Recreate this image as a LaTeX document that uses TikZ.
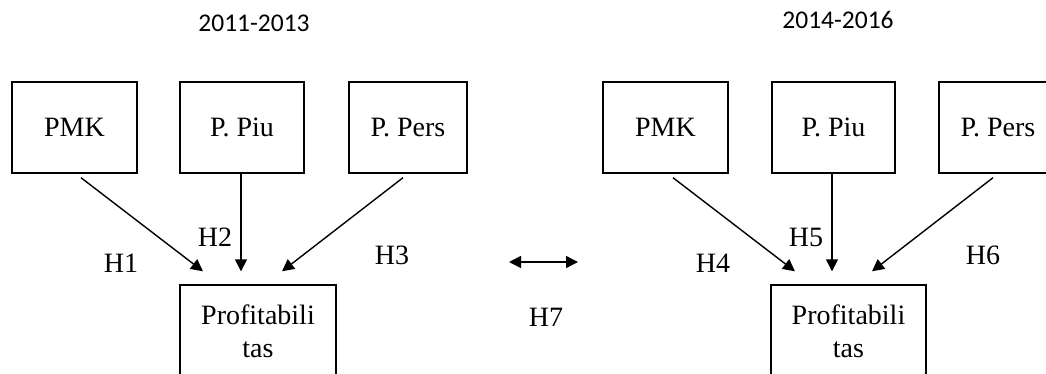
\documentclass[tikz,border=0pt]{standalone}
\usepackage{fontspec}
\setmainfont{Liberation Serif}
\newfontfamily\yearfont{Carlito}
\usetikzlibrary{arrows.meta}
\begin{document}
\begin{tikzpicture}[x=1pt,y=-1pt,
  box/.style={draw,line width=1.4pt,inner sep=0pt,minimum height=91pt,font=\fontsize{28}{33}\selectfont},
  pbox/.style={draw,line width=1.4pt,inner sep=0pt,minimum height=93pt,align=center,font=\fontsize{28}{33}\selectfont},
  lbl/.style={inner sep=0pt,font=\fontsize{28}{33}\selectfont},
  year/.style={inner sep=0pt,font=\yearfont\fontsize{25.5}{30}\selectfont},
  arr/.style={line width=1.4pt,-{Triangle[length=12pt,width=12pt]}},
  darr/.style={line width=1.4pt,{Triangle[length=12pt,width=12pt]}-{Triangle[length=12pt,width=12pt]}}]
\useasboundingbox (0,0) rectangle (1046,374);
\clip (0,0) rectangle (1046,374);
% left group
\node[year] (yA) at (254,23) {2011-2013};
\node[box,minimum width=125pt] (pmkA) at (74.5,127.5) {PMK};
\node[box,minimum width=124pt] (piuA) at (242,127.5) {P. Piu};
\node[box,minimum width=118pt] (persA) at (408,127.5) {P. Pers};
\node[pbox,minimum width=156pt] (profA) at (258,331.5) {Profitabili\\tas};
\draw[arr] ([xshift=6.5pt,yshift=-4pt]pmkA.south) -- ([xshift=-55pt,yshift=13pt]profA.north);
\draw[arr] ([xshift=-1pt]piuA.south) -- ([xshift=-17pt,yshift=13pt]profA.north);
\draw[arr] ([xshift=-5pt,yshift=-4pt]persA.south) -- ([xshift=24pt,yshift=13pt]profA.north);
\node[lbl] (h1) at (121,263) {H1};
\node[lbl] (h2) at (215,237) {H2};
\node[lbl] (h3) at (392,255) {H3};
% middle
\coordinate (h7l) at (509,262);
\coordinate (h7r) at (578,262);
\draw[darr] (h7l) -- (h7r);
\node[lbl] (h7) at (546,317) {H7};
% right group
\node[year] (yB) at (838,20) {2014-2016};
\node[box,minimum width=125pt] (pmkB) at (665.5,127.5) {PMK};
\node[box,minimum width=123pt] (piuB) at (833.5,127.5) {P. Piu};
\node[box,minimum width=118pt] (persB) at (998,127.5) {P. Pers};
\node[pbox,minimum width=155pt] (profB) at (848.5,331.5) {Profitabili\\tas};
\draw[arr] ([xshift=7.5pt,yshift=-4pt]pmkB.south) -- ([xshift=-53.5pt,yshift=13pt]profB.north);
\draw[arr] ([xshift=-1.5pt]piuB.south) -- ([xshift=-16.5pt,yshift=13pt]profB.north);
\draw[arr] ([xshift=-5pt,yshift=-4pt]persB.south) -- ([xshift=23.5pt,yshift=13pt]profB.north);
\node[lbl] (h4) at (713,263) {H4};
\node[lbl] (h5) at (806,237) {H5};
\node[lbl] (h6) at (983,255) {H6};
\end{tikzpicture}
\end{document}
